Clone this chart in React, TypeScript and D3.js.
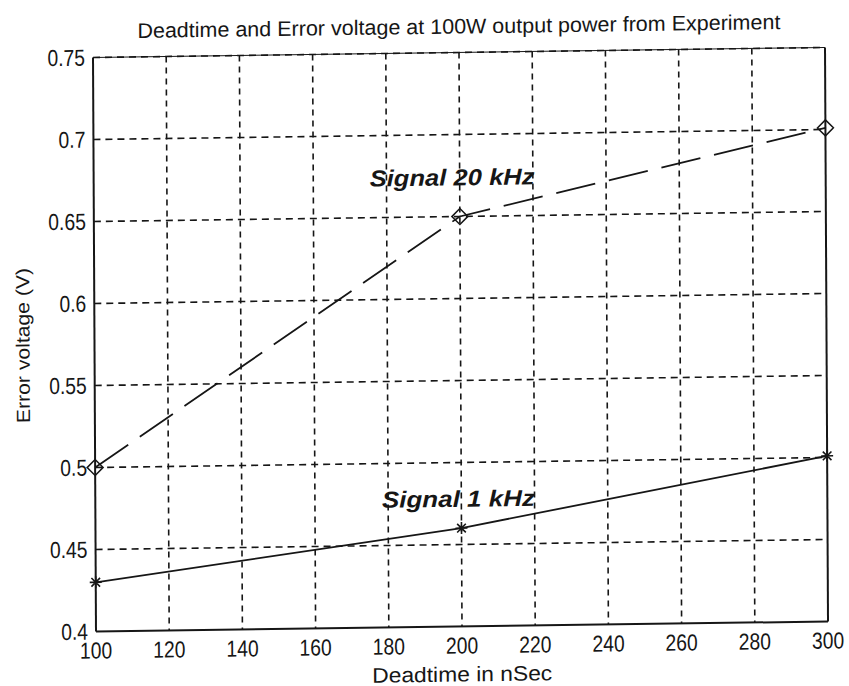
import React from "react";
import * as d3 from "d3";

const xTicks = [100, 120, 140, 160, 180, 200, 220, 240, 260, 280, 300];
const yTicks = [0.4, 0.45, 0.5, 0.55, 0.6, 0.65, 0.7, 0.75];
const yTickLabels = ["0.4", "0.45", "0.5", "0.55", "0.6", "0.65", "0.7", "0.75"];
const deadtime = [100, 200, 300];
const signal20k = [0.5, 0.65, 0.701];
const signal1k = [0.43, 0.46, 0.501];

const title = "Deadtime and Error voltage at 100W output power from Experiment";
const xLabel = "Deadtime in nSec";
const yLabel = "Error voltage (V)";
const label20k = "Signal 20 kHz";
const label1k = "Signal 1 kHz";

const W = 849;
const H = 686;
const PW = 732;
const PH = 574;
const INK = "#161616";
const SANS = "'Liberation Sans', Arial, sans-serif";

export default function App() {
  const x = d3.scaleLinear().domain([100, 300]).range([0, PW]);
  const y = d3.scaleLinear().domain([0.4, 0.75]).range([PH, 0]);
  const line = d3
    .line<number>()
    .x((_, i) => x(deadtime[i]))
    .y((v) => y(v));

  // slight skew of the scanned page
  const skew = `matrix(1, ${-10 / PW}, ${3 / PH}, 1, 93, 57.5)`;
  const NX = 0.84; // horizontal squeeze for the narrow scanned font

  return (
    <svg
      width={W}
      height={H}
      style={{ position: "absolute", left: 0, top: 0, background: "#fff" }}
    >
      <rect x={0} y={0} width={W} height={H} fill="#fff" />
      <g transform={skew}>
        {/* grid */}
        {xTicks.slice(1, -1).map((t) => (
          <line
            key={"gx" + t}
            x1={x(t)}
            x2={x(t)}
            y1={0}
            y2={PH}
            stroke={INK}
            strokeWidth={1.6}
            strokeDasharray="6,5"
          />
        ))}
        {yTicks.slice(1).map((t) => (
          <line
            key={"gy" + t}
            x1={0}
            x2={PW}
            y1={y(t)}
            y2={y(t)}
            stroke={INK}
            strokeWidth={1.6}
            strokeDasharray="7,5"
          />
        ))}
        {/* frame */}
        <line x1={0} x2={PW} y1={0} y2={0} stroke={INK} strokeWidth={1} />
        <line x1={0} x2={0} y1={0} y2={PH} stroke={INK} strokeWidth={2} />
        <line x1={PW} x2={PW} y1={0} y2={PH} stroke={INK} strokeWidth={2} />
        <line x1={0} x2={PW} y1={PH} y2={PH} stroke={INK} strokeWidth={2} />

        {/* series */}
        <path
          d={line(signal20k) || ""}
          fill="none"
          stroke={INK}
          strokeWidth={1.8}
          strokeDasharray="40,14"
        />
        <path d={line(signal1k) || ""} fill="none" stroke={INK} strokeWidth={1.8} />

        {signal20k.map((v, i) => {
          const cx = x(deadtime[i]);
          const cy = y(v);
          const s = 8;
          return (
            <path
              key={"d" + i}
              d={`M${cx},${cy - s}L${cx + s},${cy}L${cx},${cy + s}L${cx - s},${cy}Z`}
              fill="none"
              stroke={INK}
              strokeWidth={1.5}
            />
          );
        })}
        {signal1k.map((v, i) => {
          const cx = x(deadtime[i]);
          const cy = y(v);
          const s = 6;
          const d2 = s * 0.72;
          return (
            <path
              key={"s" + i}
              d={`M${cx - s},${cy}L${cx + s},${cy}M${cx},${cy - s}L${cx},${cy + s}M${cx - d2},${cy - d2}L${cx + d2},${cy + d2}M${cx - d2},${cy + d2}L${cx + d2},${cy - d2}`}
              stroke={INK}
              strokeWidth={1.6}
            />
          );
        })}

        {/* annotations */}
        <text
          x={x(175.4)}
          y={y(0.669)}
          fontFamily={SANS}
          fontStyle="italic"
          fontWeight="bold"
          fontSize={23}
          fill={INK}
          textLength={165}
          lengthAdjust="spacingAndGlyphs"
        >
          {label20k}
        </text>
        <text
          x={x(178.3)}
          y={y(0.473)}
          fontFamily={SANS}
          fontStyle="italic"
          fontWeight="bold"
          fontSize={23}
          fill={INK}
          textLength={153}
          lengthAdjust="spacingAndGlyphs"
        >
          {label1k}
        </text>

        {/* tick labels */}
        {xTicks.map((t) => (
          <text
            key={"xt" + t}
            transform={`translate(${x(t)}, ${PH + 27}) scale(${NX}, 1)`}
            textAnchor="middle"
            fontFamily={SANS}
            fontSize={23}
            fill={INK}
          >
            {t}
          </text>
        ))}
        {yTicks.map((t, i) => (
          <text
            key={"yt" + t}
            transform={`translate(-8, ${y(t) + 8}) scale(${NX}, 1)`}
            textAnchor="end"
            fontFamily={SANS}
            fontSize={23}
            fill={INK}
          >
            {yTickLabels[i]}
          </text>
        ))}

        {/* titles */}
        <text
          x={PW / 2}
          y={-19}
          textAnchor="middle"
          fontFamily={SANS}
          fontSize={21}
          fill={INK}
          textLength={643}
          lengthAdjust="spacingAndGlyphs"
        >
          {title}
        </text>
        <text
          x={PW / 2}
          y={PH + 55}
          textAnchor="middle"
          fontFamily={SANS}
          fontSize={21}
          fill={INK}
          textLength={180}
          lengthAdjust="spacingAndGlyphs"
        >
          {xLabel}
        </text>
        <text
          transform={`translate(${-65}, ${PH / 2}) rotate(-90)`}
          textAnchor="middle"
          fontFamily={SANS}
          fontSize={19}
          fill={INK}
          textLength={155}
          lengthAdjust="spacingAndGlyphs"
        >
          {yLabel}
        </text>
      </g>
    </svg>
  );
}
